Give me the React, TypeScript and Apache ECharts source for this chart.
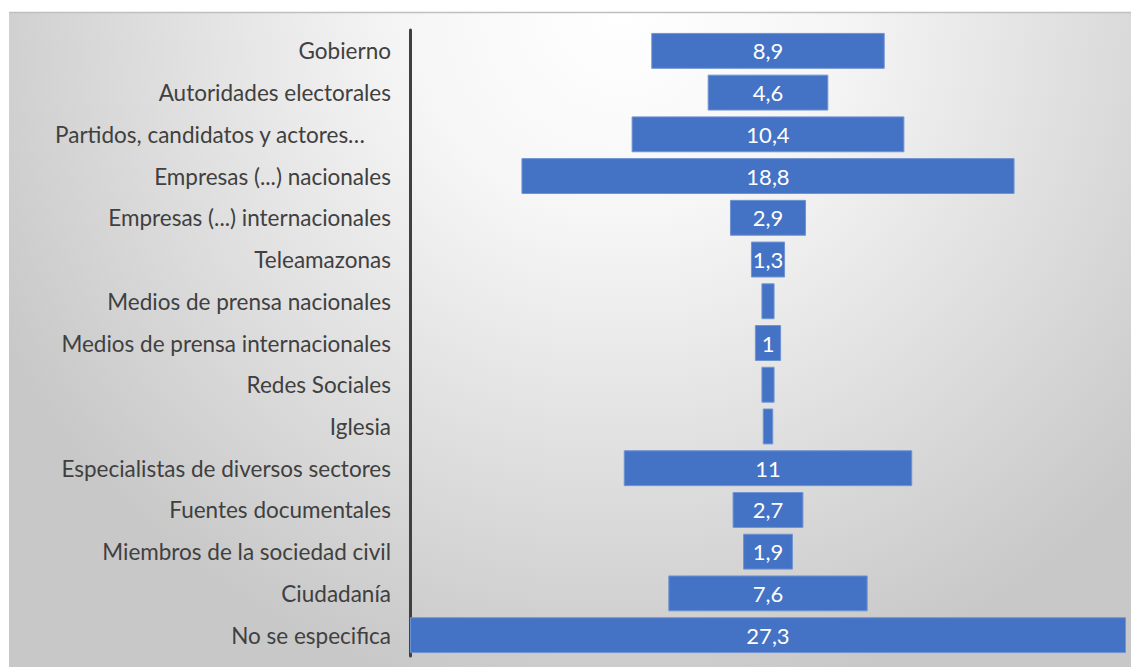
import React, { useEffect, useRef } from "react";
import * as echarts from "echarts";

const categories: string[] = [
  "Gobierno",
  "Autoridades electorales",
  "Partidos, candidatos y actores…",
  "Empresas (...) nacionales",
  "Empresas (...) internacionales",
  "Teleamazonas",
  "Medios de prensa nacionales",
  "Medios de prensa internacionales",
  "Redes Sociales",
  "Iglesia",
  "Especialistas de diversos sectores",
  "Fuentes documentales",
  "Miembros de la sociedad civil",
  "Ciudadanía",
  "No se especifica",
];

const values: number[] = [8.9, 4.6, 10.4, 18.8, 2.9, 1.3, 0.5, 1, 0.5, 0.4, 11, 2.7, 1.9, 7.6, 27.3];

const showLabel: boolean[] = [true, true, true, true, true, true, false, true, false, false, true, true, true, true, true];

const FONT = "Lato, 'Open Sans', sans-serif";

export default function App() {
  const ref = useRef<HTMLDivElement>(null);

  useEffect(() => {
    if (!ref.current) return;
    const chart = echarts.init(ref.current, undefined, { renderer: "svg" });
    const maxV = Math.max(...values);
    const offsets = values.map((v) => (maxV - v) / 2);

    chart.setOption({
      animation: false,
      graphic: [
        {
          type: "rect",
          z: -10,
          silent: true,
          shape: { x: 9, y: 12, width: 1122, height: 655 },
          style: {
            fill: {
              type: "radial",
              x: 620,
              y: 10,
              r: 700,
              global: true,
              colorStops: [
                { offset: 0, color: "#ffffff" },
                { offset: 0.3, color: "#f6f6f6" },
                { offset: 1, color: "#c8c8c8" },
              ],
            },
          },
        },
        {
          type: "line",
          z: -9,
          silent: true,
          shape: { x1: 9, y1: 12.5, x2: 1131, y2: 12.5 },
          style: { stroke: "#bfbfbf", lineWidth: 1.5 },
        },
      ],
      grid: { left: 410, right: 5, top: 30, bottom: 11, containLabel: false },
      xAxis: {
        type: "value",
        min: 0,
        max: maxV,
        show: false,
      },
      yAxis: {
        type: "category",
        data: categories,
        inverse: true,
        axisLine: { show: true, lineStyle: { color: "#404040", width: 3 } },
        axisTick: { show: false },
        axisLabel: {
          margin: 19,
          color: "#404040",
          fontFamily: FONT,
          fontSize: 22.5,
          formatter: (v: string) => (v.endsWith("…") ? `{p|${v}}` : v),
          rich: {
            p: { fontFamily: FONT, fontSize: 22.5, color: "#404040", padding: [0, 26, 0, 0] },
          },
        },
      },
      series: [
        {
          type: "bar",
          stack: "f",
          data: offsets,
          itemStyle: { color: "transparent" },
          silent: true,
          barWidth: "86%",
        },
        {
          type: "bar",
          stack: "f",
          data: values,
          barWidth: "86%",
          itemStyle: { color: "#4472C4", borderColor: "#6f93d3", borderWidth: 1 },
          label: {
            show: true,
            position: "inside",
            color: "#ffffff",
            fontFamily: FONT,
            fontSize: 22,
            formatter: (p: any) => (showLabel[p.dataIndex] ? String(p.value).replace(".", ",") : ""),
          },
        },
      ],
    });
    return () => chart.dispose();
  }, []);

  return (
    <div
      ref={ref}
      style={{ position: "fixed", left: 0, top: 0, width: 1131, height: 667, background: "#ffffff" }}
    />
  );
}
